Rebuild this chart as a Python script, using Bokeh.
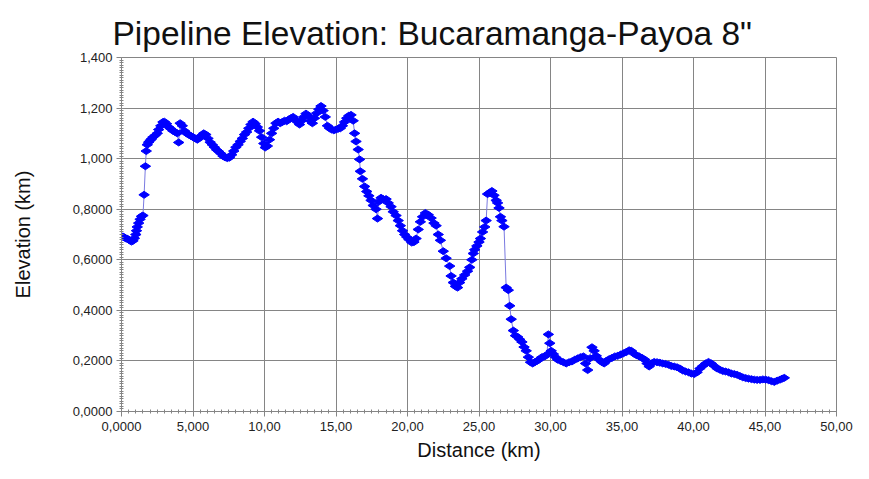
import math
from bokeh.plotting import figure
from bokeh.models import FixedTicker
from bokeh.embed import file_html
from bokeh.resources import INLINE

# ---- data ----
distance_km = [
    0.00, 0.10, 0.20, 0.30, 0.40, 0.50, 0.60, 0.70, 0.80, 0.90,
    1.00, 1.05, 1.10, 1.20, 1.30, 1.40, 1.50, 1.58, 1.67, 1.73,
    1.80, 1.90, 2.00, 2.10, 2.20, 2.35, 2.50, 2.60, 2.75, 2.90,
    3.00, 3.15, 3.30, 3.45, 3.60, 3.75, 3.90, 4.00, 4.10, 4.25,
    4.40, 4.55, 4.70, 4.85, 5.00, 5.15, 5.30, 5.45, 5.60, 5.75,
    5.90, 6.05, 6.20, 6.35, 6.50, 6.65, 6.80, 6.95, 7.10, 7.25,
    7.40, 7.55, 7.70, 7.85, 8.00, 8.15, 8.30, 8.45, 8.60, 8.75,
    8.90, 9.05, 9.20, 9.35, 9.50, 9.65, 9.80, 9.95, 10.05, 10.20,
    10.35, 10.50, 10.65, 10.80, 10.95, 11.10, 11.25, 11.40, 11.55, 11.70,
    11.85, 12.00, 12.15, 12.30, 12.45, 12.60, 12.75, 12.90, 13.05, 13.20,
    13.35, 13.50, 13.65, 13.80, 13.95, 14.10, 14.25, 14.40, 14.55, 14.70,
    14.85, 15.00, 15.15, 15.30, 15.45, 15.60, 15.75, 15.90, 16.05, 16.20,
    16.30, 16.40, 16.55, 16.65, 16.70, 16.85, 17.00, 17.15, 17.30, 17.45,
    17.60, 17.80, 17.90, 18.00, 18.15, 18.30, 18.50, 18.65, 18.85, 19.00,
    19.20, 19.35, 19.50, 19.65, 19.80, 19.95, 20.10, 20.30, 20.45, 20.60,
    20.75, 20.90, 21.05, 21.25, 21.45, 21.65, 21.85, 22.00, 22.15, 22.30,
    22.50, 22.70, 22.95, 23.05, 23.20, 23.35, 23.50, 23.65, 23.80, 24.00,
    24.20, 24.35, 24.50, 24.60, 24.70, 24.85, 25.00, 25.10, 25.25, 25.40,
    25.50, 25.60, 25.75, 25.90, 26.05, 26.20, 26.30, 26.40, 26.50, 26.60,
    26.75, 26.90, 27.05, 27.15, 27.25, 27.40, 27.55, 27.70, 27.85, 28.00,
    28.15, 28.30, 28.45, 28.60, 28.75, 28.90, 29.05, 29.20, 29.40, 29.60,
    29.75, 29.85, 29.95, 30.05, 30.20, 30.35, 30.50, 30.70, 30.90, 31.10,
    31.30, 31.50, 31.70, 31.90, 32.10, 32.30, 32.45, 32.60, 32.75, 32.90,
    33.05, 33.20, 33.40, 33.60, 33.75, 33.90, 34.10, 34.30, 34.50, 34.70,
    34.90, 35.10, 35.30, 35.50, 35.65, 35.80, 36.00, 36.20, 36.40, 36.60,
    36.75, 36.90, 37.05, 37.25, 37.45, 37.65, 37.85, 38.05, 38.25, 38.45,
    38.65, 38.85, 39.05, 39.25, 39.45, 39.65, 39.85, 40.05, 40.25, 40.45,
    40.65, 40.85, 41.05, 41.25, 41.45, 41.65, 41.85, 42.05, 42.25, 42.45,
    42.65, 42.85, 43.05, 43.25, 43.45, 43.65, 43.85, 44.05, 44.25, 44.45,
    44.65, 44.85, 45.05, 45.25, 45.45, 45.65, 45.85, 46.05, 46.20, 46.35,
]

elevation_km = [
    0.690, 0.692, 0.688, 0.685, 0.683, 0.680, 0.676, 0.672, 0.675, 0.685,
    0.700, 0.715, 0.730, 0.745, 0.760, 0.772, 0.775, 0.857, 0.970, 1.030,
    1.055, 1.065, 1.072, 1.078, 1.085, 1.092, 1.100, 1.115, 1.130, 1.145,
    1.146, 1.138, 1.125, 1.118, 1.110, 1.105, 1.100, 1.064, 1.140, 1.130,
    1.110, 1.100, 1.095, 1.090, 1.085, 1.080, 1.075, 1.082, 1.092, 1.100,
    1.095, 1.080, 1.065, 1.055, 1.045, 1.035, 1.028, 1.020, 1.010, 1.005,
    1.002, 1.004, 1.015, 1.030, 1.045, 1.055, 1.068, 1.080, 1.095, 1.105,
    1.120, 1.135, 1.146, 1.138, 1.125, 1.110, 1.085, 1.060, 1.044, 1.050,
    1.075, 1.100, 1.120, 1.140, 1.146, 1.140, 1.145, 1.150, 1.148, 1.155,
    1.160, 1.165, 1.155, 1.145, 1.135, 1.150, 1.165, 1.178, 1.170, 1.150,
    1.140, 1.160, 1.180, 1.195, 1.208, 1.190, 1.165, 1.130, 1.120, 1.115,
    1.112, 1.115, 1.118, 1.120, 1.130, 1.145, 1.160, 1.170, 1.173, 1.150,
    1.100, 1.068, 1.036, 0.997, 0.950, 0.920, 0.890, 0.870, 0.853, 0.835,
    0.815, 0.800, 0.763, 0.830, 0.845, 0.840, 0.840, 0.825, 0.810, 0.790,
    0.775, 0.755, 0.735, 0.715, 0.700, 0.690, 0.680, 0.668, 0.670, 0.684,
    0.720, 0.750, 0.770, 0.785, 0.778, 0.765, 0.745, 0.735, 0.700, 0.677,
    0.634, 0.606, 0.575, 0.536, 0.510, 0.495, 0.490, 0.510, 0.525, 0.540,
    0.555, 0.570, 0.600, 0.625, 0.640, 0.655, 0.670, 0.684, 0.710, 0.730,
    0.755, 0.860, 0.865, 0.872, 0.855, 0.835, 0.825, 0.805, 0.770, 0.755,
    0.731, 0.490, 0.480, 0.418, 0.365, 0.320, 0.300, 0.295, 0.285, 0.275,
    0.255, 0.240, 0.215, 0.195, 0.190, 0.195, 0.200, 0.205, 0.215, 0.218,
    0.225, 0.305, 0.270, 0.240, 0.227, 0.215, 0.205, 0.200, 0.195, 0.190,
    0.195, 0.198, 0.205, 0.210, 0.215, 0.218, 0.190, 0.164, 0.210, 0.254,
    0.240, 0.220, 0.205, 0.195, 0.190, 0.200, 0.207, 0.212, 0.218, 0.220,
    0.225, 0.230, 0.235, 0.242, 0.240, 0.230, 0.223, 0.218, 0.212, 0.205,
    0.190, 0.178, 0.190, 0.196, 0.195, 0.193, 0.190, 0.188, 0.185, 0.180,
    0.178, 0.175, 0.170, 0.162, 0.158, 0.155, 0.150, 0.148, 0.155, 0.170,
    0.180, 0.190, 0.196, 0.190, 0.180, 0.170, 0.165, 0.160, 0.158, 0.155,
    0.150, 0.148, 0.145, 0.140, 0.135, 0.132, 0.130, 0.128, 0.126, 0.125,
    0.125, 0.127, 0.126, 0.124, 0.120, 0.117, 0.122, 0.126, 0.130, 0.133,
]

x_ticks = [0, 5, 10, 15, 20, 25, 30, 35, 40, 45, 50]
x_tick_labels = ["0,0000", "5,000", "10,00", "15,00", "20,00", "25,00",
                 "30,00", "35,00", "40,00", "45,00", "50,00"]
y_ticks = [0.0, 0.2, 0.4, 0.6, 0.8, 1.0, 1.2, 1.4]
y_tick_labels = ["0,0000", "0,2000", "0,4000", "0,6000", "0,8000",
                 "1,000", "1,200", "1,400"]

title_text = 'Pipeline Elevation: Bucaramanga-Payoa 8"'
x_label = "Distance (km)"
y_label = "Elevation (km)"

FONT = "Liberation Sans"
GRID = "#858585"

p = figure(width=853, height=463, x_range=(0, 50), y_range=(0, 1.4),
           output_backend="svg", toolbar_location=None,
           min_border_left=121, min_border_right=17,
           min_border_top=57, min_border_bottom=52)

p.title.text = title_text
p.title.text_font = FONT
p.title.text_font_size = "33.5px"
p.title.text_font_style = "normal"
p.title.text_color = "#111111"
p.title.align = "left"
p.title.offset = -9
p.title.standoff = 12

p.background_fill_color = "white"
p.border_fill_color = "white"
p.outline_line_color = GRID
p.outline_line_width = 1

x_minor = [i * 0.5 for i in range(101)]
y_minor = [i * 0.01 for i in range(141)]
p.xaxis.ticker = FixedTicker(ticks=x_ticks, minor_ticks=x_minor)
p.yaxis.ticker = FixedTicker(ticks=y_ticks, minor_ticks=y_minor)
p.xaxis.major_label_overrides = {t: s for t, s in zip(x_ticks, x_tick_labels)}
p.yaxis.major_label_overrides = {t: s for t, s in zip(y_ticks, y_tick_labels)}

for ax in (p.xaxis[0], p.yaxis[0]):
    ax.axis_line_color = GRID
    ax.major_tick_line_color = GRID
    ax.minor_tick_line_color = GRID
    ax.major_tick_out = 5
    ax.major_tick_in = 0
    ax.minor_tick_out = 2
    ax.minor_tick_in = 2
    ax.major_label_text_font = FONT
    ax.major_label_text_font_size = "13px"
    ax.major_label_text_color = "#222222"
    ax.axis_label_text_font = FONT
    ax.axis_label_text_font_size = "20px"
    ax.axis_label_text_font_style = "normal"
    ax.axis_label_text_color = "#111111"

p.xaxis.axis_label = x_label
p.yaxis.axis_label = y_label
p.xaxis.major_label_standoff = 5
p.yaxis.major_label_standoff = 4
p.xaxis.axis_label_standoff = 5
p.yaxis.axis_label_standoff = 36

p.xgrid.ticker = FixedTicker(ticks=x_ticks)
p.ygrid.ticker = FixedTicker(ticks=y_ticks)
p.grid.grid_line_color = GRID
p.grid.grid_line_width = 1

p.line(distance_km, elevation_km, line_color="#7a7ae0", line_width=1)
p.scatter(distance_km, elevation_km, marker="diamond", size=10.5,
          angle=math.pi / 2, fill_color="#0000ff", line_color="#0000ff",
          line_width=1)

open("out.html", "w").write(file_html(p, INLINE))
